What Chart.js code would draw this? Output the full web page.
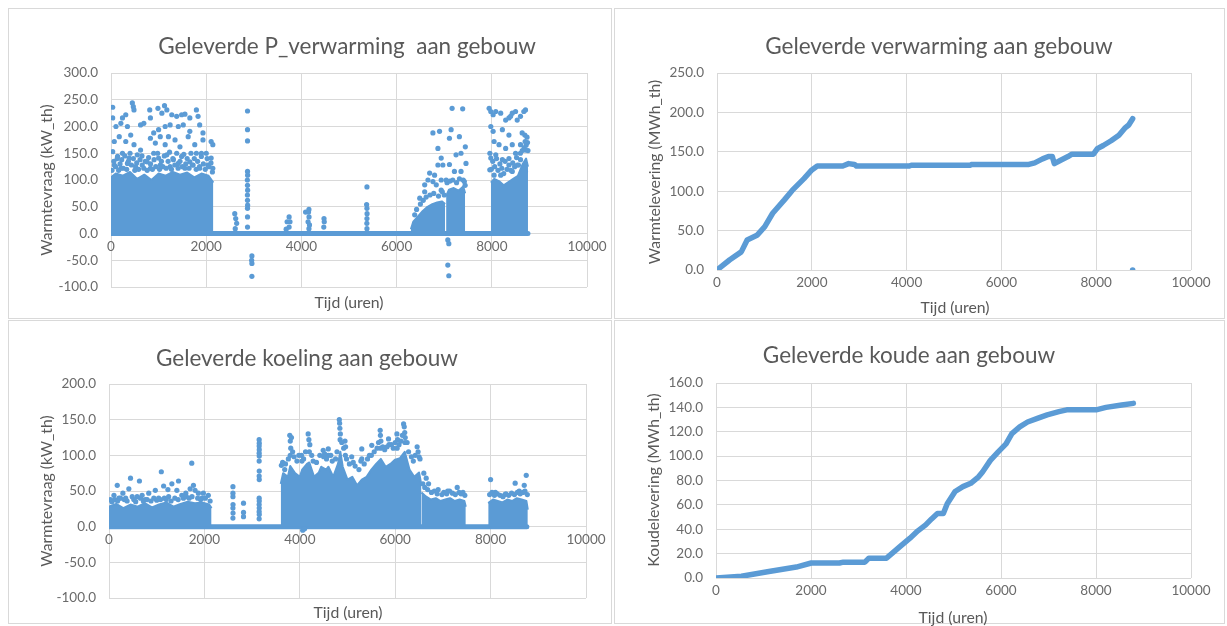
<!DOCTYPE html>
<html>
<head>
<meta charset="utf-8">
<script src="https://cdn.jsdelivr.net/npm/chart.js@4.4.1/dist/chart.umd.min.js"></script>
<style>
  body { margin: 0; background: #fff; width: 1227px; height: 626px; overflow: hidden; position: relative; font-family: Lato, sans-serif; color: #595959; }
  .panel { position: absolute; box-shadow: inset 0 0 0 1px #d9d9d9; }
  .panel canvas { position: absolute; left: 0; top: 0; }
  .title { position: absolute; font-size: 22.5px; white-space: pre; transform: translate(-50%, -50%); }
  .axt { position: absolute; font-size: 15.8px; white-space: pre; transform: translate(-50%, -50%); }
  .axt.v { transform: translate(-50%, -50%) rotate(-90deg); }
</style>
</head>
<body>
<div class="panel" style="left:8px;top:8px;width:604px;height:311px"><canvas id="c1" width="604" height="311"></canvas></div>
<div class="panel" style="left:614px;top:8px;width:611px;height:311px"><canvas id="c2" width="611" height="311"></canvas></div>
<div class="panel" style="left:8px;top:320px;width:604px;height:304px"><canvas id="c3" width="604" height="304"></canvas></div>
<div class="panel" style="left:614px;top:320px;width:611px;height:304px"><canvas id="c4" width="611" height="304"></canvas></div>

<div class="title" style="left:347px;top:45px">Geleverde P_verwarming  aan gebouw</div>
<div class="title" style="left:939px;top:45px">Geleverde verwarming aan gebouw</div>
<div class="title" style="left:307px;top:357px">Geleverde koeling aan gebouw</div>
<div class="title" style="left:909px;top:354px">Geleverde koude aan gebouw</div>

<div class="axt v" style="left:45px;top:180px">Warmtevraag (kW_th)</div>
<div class="axt v" style="left:653px;top:172px">Warmtelevering (MWh_th)</div>
<div class="axt v" style="left:45px;top:491px">Warmtevraag (kW_th)</div>
<div class="axt v" style="left:652px;top:480px">Koudelevering (MWh_th)</div>

<div class="axt" style="left:349px;top:301px">Tijd (uren)</div>
<div class="axt" style="left:955px;top:306px">Tijd (uren)</div>
<div class="axt" style="left:348px;top:611px">Tijd (uren)</div>
<div class="axt" style="left:953px;top:616px">Tijd (uren)</div>

<script>
// ---- data: [uur, waarde] ----

// P_verwarming (kW_th): dense clouds (tops), the zero run, and separate dots
const heatZero = [[0, 0], [8760, 0]];
const heatBand1 = [[0,105],[100,112],[250,108],[400,115],[550,102],[700,110],[850,100],[1000,112],[1150,108],[1300,115],[1450,110],[1600,114],[1750,105],[1900,112],[2050,108],[2150,95]];
const heatBand2 = [[6300,8],[6350,22],[6450,32],[6550,42],[6650,50],[6750,55],[6850,58],[6950,60],[7020,55]];
const heatBand3 = [[7040,70],[7100,82],[7200,85],[7300,80],[7400,88],[7440,75]];
const heatBand4 = [[7980,95],[8050,102],[8150,98],[8250,90],[8350,96],[8450,102],[8550,108],[8650,130],[8720,140],[8760,125]];
const heatDots = [
  [35,236],[35,216],[448,244],[469,237],[483,231],[310,222],[241,216],[814,231],[828,216],[986,234],[1124,239],[1173,231],[1069,225],[1277,222],[1380,219],[1484,222],[1553,223],[1656,216],[1794,231],[1829,219],
  [104,200],[207,206],[345,200],[621,203],[690,206],[897,188],[1000,194],[1138,200],[1242,203],[1414,200],[1518,203],[1656,191],[1863,203],[1932,188],
  [69,172],[173,181],[310,172],[414,184],[483,166],[621,156],[828,178],[932,169],[1035,181],[1138,166],[1207,181],[1345,175],[1449,162],[1622,181],[1760,166],[1932,175],[2104,172],[2139,166],
  [35,153],[138,144],[241,150],[380,141],[552,147],[759,134],[897,150],[1000,141],[1173,147],[1311,138],[1484,144],[1656,134],[1794,150],[1898,144],[2001,150],[2104,141],
  [69,128],[207,122],[345,131],[518,125],[656,128],[828,122],[1035,128],[1242,125],[1414,131],[1553,122],[1725,128],[1863,122],[2035,128],[2139,122],
  [20,118],[60,135],[95,125],[130,140],[160,118],[190,130],[225,138],[260,122],[290,145],[330,120],[365,135],[400,150],[430,128],[470,140],[500,118],[540,132],[580,120],[610,138],[650,145],[690,122],[720,135],[760,118],[790,142],[830,130],[870,120],[905,138],[940,125],[980,150],[1020,120],[1060,135],[1090,125],[1120,145],[1160,122],[1200,135],[1230,152],[1270,120],[1300,140],[1340,128],[1380,150],[1410,122],[1450,135],[1500,125],[1530,148],[1570,130],[1600,140],[1640,122],[1680,150],[1710,128],[1750,140],[1790,120],[1820,135],[1860,125],[1900,150],[1940,130],[1980,120],[2020,140],[2060,125],[2100,132],[2130,115],
  [2600,37],[2620,28],[2640,19],[2610,9],
  [2868,229],[2868,194],[2868,173],[2868,116],[2870,109],[2865,100],[2868,90],[2870,81],[2866,72],[2868,62],[2870,53],[2868,47],[2868,31],[2868,12],
  [2960,-42],[2955,-50],[2960,-56],[2960,-80],
  [3700,22],[3742,31],[3760,22],[3742,12],[3680,8],
  [4088,40],[4158,45],[4150,40],[4160,31],[4140,22],[4170,16],[4158,9],
  [4475,28],[4480,22],[4470,12],
  [5377,87],[5370,54],[5377,47],[5380,37],[5377,28],[5375,19],[5377,9],
  [6380,35],[6420,45],[6500,55],[6560,62],[6620,68],[6700,72],[6780,75],[6880,70],[6960,78],[7000,72],[7060,95],[7120,98],[7180,100],[7260,95],[7320,102],[7400,100],[7440,90],
  [6763,188],[6902,191],[7145,194],[7319,181],[7110,178],[7166,234],[7388,233],[7444,162],[7353,150],[7249,147],[6868,159],[6937,141],[6868,128],[6972,128],[7110,129],[7458,131],
  [6694,113],[6798,109],[6659,100],[6763,97],[6937,100],[7041,100],[7215,116],[7353,116],[7423,97],[6590,91],[6833,91],[6590,78],[6486,66],[6937,81],
  [7076,-12],[7097,-19],[7076,-59],[7097,-79],
  [7944,234],[7979,228],[8028,222],[8083,228],[8187,225],[8291,212],[8360,216],[8430,225],[8499,228],[8673,228],[8708,231],[8603,219],[8534,212],[8395,219],
  [7979,200],[8028,191],[8222,194],[8360,184],[8638,188],[8694,184],[8048,172],[8152,166],[8291,159],[8430,166],[8603,166],[8708,156],
  [8083,147],[8222,138],[8360,128],[8499,150],[8603,138],[7979,141],[8187,109],[8534,128],[7958,119],[8048,109],[8430,116],[8708,116],[7960,150],
  [7990,120],[8020,135],[8060,125],[8100,140],[8130,118],[8170,130],[8210,122],[8250,112],[8280,135],[8320,120],[8360,140],[8400,118],[8440,132],[8480,125],[8520,142],[8560,128],[8600,150],[8640,155],[8680,160],[8720,165],[8750,170],[8740,180],[8700,172],[8760,155]
];

// cumulatieve warmtelevering (MWh_th)
const heatCum = [[0,0],[264,12.7],[512,23],[636,38],[843,44],[1008,55],[1174,72],[1421,89],[1587,101],[1835,116],[2000,127],[2116,132],[2653,132],[2777,135],[2900,134],[2942,132],[4058,132],[4099,133],[5339,133],[5380,134],[6579,134],[6703,136],[6868,141],[6992,144],[7074,144],[7116,135],[7240,139],[7405,144],[7488,147],[7942,147],[8025,154],[8149,158],[8314,164],[8479,171],[8603,180],[8686,184],[8769,192]];
const heatCumOutlier = [[8769, 0]];

// koeling (kW_th)
const coolZero = [[0, 0], [8760, 0]];
const coolBand1 = [[0,28],[150,32],[300,26],[450,31],[600,28],[750,33],[900,27],[1050,31],[1200,34],[1350,28],[1500,32],[1650,35],[1800,33],[1950,34],[2100,31],[2150,26]];
const coolBand2 = [[3600,60],[3650,75],[3750,70],[3800,85],[3900,75],[4000,70],[4050,80],[4150,88],[4200,90],[4300,70],[4400,76],[4450,84],[4550,80],[4600,84],[4700,70],[4800,88],[4850,105],[4900,84],[5000,66],[5100,70],[5200,58],[5300,66],[5400,70],[5500,80],[5600,88],[5700,95],[5800,84],[5900,88],[6000,94],[6100,96],[6200,105],[6300,80],[6400,70],[6500,76],[6550,58]];
const coolBand3 = [[6550,48],[6650,42],[6750,38],[6850,40],[6950,36],[7050,38],[7150,40],[7250,36],[7350,38],[7450,36],[7480,28]];
const coolBand4 = [[7950,33],[8050,38],[8150,36],[8250,34],[8350,38],[8450,36],[8550,40],[8650,38],[8750,36],[8780,24]];
const coolDots = [
  [1735,89],[1097,77],[451,68],[638,64],[173,58],[416,53],[1457,64],[1318,60],[1145,57],[1235,52],[1770,58],[1701,53],[971,51],[104,44],[291,47],[486,42],[694,44],[833,47],[1423,51],[1610,47],[1874,47],[1978,47],[2082,44],[208,40],[590,42],[1041,40],[1527,44],[1804,51],[30,38],[350,40],[760,38],[1250,42],[1950,40],
  [60,35],[120,38],[180,36],[240,40],[320,38],[380,36],[520,38],[560,35],[660,40],[720,36],[800,38],[880,36],[940,40],[1000,37],[1080,38],[1160,40],[1200,38],[1300,36],[1380,40],[1450,38],[1560,40],[1620,42],[1680,40],[1740,42],[1860,40],[1920,38],[2020,40],[2120,36],
  [2598,56],[2598,47],[2598,42],[2600,31],[2598,26],[2600,19],[2598,12],
  [2820,33],[2820,20],[2820,14],
  [3148,122],[3150,117],[3148,113],[3150,108],[3148,103],[3150,99],[3148,92],[3150,78],[3148,71],[3150,66],[3148,40],[3150,36],[3148,31],[3150,26],[3148,21],[3150,17],[3148,11],
  [3614,86],[3684,80],[3790,128],[3800,120],[3810,110],[3825,125],[3800,100],[4035,100],[4045,92],[4175,130],[4190,122],[4210,115],[4200,105],[4491,107],[4500,98],[4597,109],[4600,100],
  [4828,150],[4835,145],[4840,138],[4850,130],[4845,122],[4948,120],[4960,112],[4955,100],[5088,98],[5299,109],[5300,95],[5509,114],[5500,100],
  [5685,135],[5690,128],[5700,120],[5695,110],[5860,123],[5870,115],[6036,130],[6050,122],[6040,110],[6176,144],[6190,140],[6200,132],[6210,125],[6205,118],[6460,112],[6480,105],[6500,98],
  [3640,90],[3700,88],[3760,95],[3850,105],[3880,98],[3940,92],[3980,100],[4080,95],[4120,105],[4250,100],[4280,92],[4350,90],[4420,100],[4520,102],[4560,95],[4650,100],[4680,92],[4750,95],[4780,105],[4880,118],[4920,110],[4980,95],[5040,88],[5120,90],[5160,85],[5240,80],[5280,92],[5350,88],[5420,95],[5460,100],[5560,105],[5620,110],[5650,118],[5740,112],[5780,108],[5830,112],[5920,115],[5960,110],[6000,118],[6080,115],[6120,120],[6150,128],[6250,118],[6280,105],[6340,98],[6380,92],[6420,100],[6520,95],
  [6580,60],[6620,55],[6680,52],[6760,48],[6820,50],[6880,46],[6980,45],[7020,48],[7080,46],[7140,50],[7200,47],[7260,45],[7340,48],[7380,46],[7460,44],
  [6600,75],[6650,68],[6700,60],[6900,52],[7100,50],[7300,55],[7420,48],[8000,66],[8515,61],[8747,72],[8705,58],[8100,48],[8300,45],[8600,50],
  [7980,45],[8030,48],[8080,44],[8140,46],[8200,44],[8260,42],[8320,46],[8380,44],[8440,47],[8500,45],[8560,48],[8620,46],[8680,48],[8720,50],[8770,45],
  [4060,-5],[4100,-3]
];

// cumulatieve koudelevering (MWh_th)
const coolCum = [[0,0],[536,1.4],[1114,5.4],[1691,9],[2005,12.3],[2599,12.3],[2681,13],[3135,13],[3218,16.3],[3589,16.3],[3713,20.4],[3878,26],[4084,32.7],[4250,38.7],[4414,43.6],[4538,48.5],[4662,53],[4786,53],[4868,61],[5033,71],[5198,75],[5363,77.7],[5528,83],[5611,87],[5776,96.5],[5941,103.5],[6106,110],[6229,118.5],[6394,124],[6559,128],[6766,131],[6972,133.8],[7219,136.5],[7384,138],[8003,138],[8210,140],[8540,142],[8787,143.3]];

const xTicks = [0, 2000, 4000, 6000, 8000, 10000];

// ---- drawing ----
const BLUE = '#5B9BD5';
const GRID = '#d9d9d9';
const TICK = '#6a6a6a';

const pts = a => a.map(([x, y]) => ({ x, y }));

function band(a) {
  return { data: pts(a), showLine: true, fill: 'origin', backgroundColor: BLUE, borderColor: BLUE,
           borderWidth: 2, borderJoinStyle: 'round', pointRadius: 0, tension: 0 };
}
function dots(a, r) {
  return { data: pts(a), showLine: false, pointRadius: r || 2.6, pointBorderWidth: 0,
           pointBackgroundColor: BLUE, backgroundColor: BLUE, borderColor: BLUE };
}
function curve(a, w) {
  return { data: pts(a), showLine: true, fill: false, borderColor: BLUE, borderWidth: w,
           borderCapStyle: 'round', borderJoinStyle: 'round', pointRadius: 0, tension: 0 };
}

function makeChart(id, box, yMin, yMax, yStep, datasets) {
  new Chart(document.getElementById(id), {
    type: 'scatter',
    data: { datasets },
    options: {
      responsive: false,
      animation: false,
      events: [],
      layout: { padding: { top: box.top, right: box.right, bottom: box.bottom, left: 0 } },
      plugins: { legend: { display: false }, tooltip: { enabled: false } },
      scales: {
        x: {
          type: 'linear', min: 0, max: 10000,
          position: { y: 0 },
          afterBuildTicks: s => { s.ticks = xTicks.map(v => ({ value: v })); },
          ticks: { color: TICK, font: { family: 'Lato', size: 13.5 }, padding: 5, maxRotation: 0, autoSkip: false,
                   callback: v => String(v) },
          grid: { color: GRID, drawTicks: false },
          border: { display: false }
        },
        y: {
          type: 'linear', min: yMin, max: yMax, position: 'left',
          ticks: { stepSize: yStep, color: TICK, font: { family: 'Lato', size: 13.5 }, padding: 13,
                   callback: v => v.toFixed(1) },
          grid: { color: GRID, drawTicks: false },
          border: { display: false },
          afterFit: s => { s.width = box.left; s.paddingTop = 0; s.paddingBottom = 0; s.paddingLeft = 0; s.paddingRight = 0; }
        }
      }
    }
  });
}

makeChart('c1', { left: 103, top: 65, right: 25, bottom: 32 }, -100, 300, 50, [
  band(heatBand1), band(heatBand2), band(heatBand3), band(heatBand4),
  dots(heatDots), curve(heatZero, 5)
]);

makeChart('c2', { left: 103, top: 65, right: 34, bottom: 49 }, 0, 250, 50, [
  curve(heatCum, 5.5), dots(heatCumOutlier, 2.8)
]);

makeChart('c3', { left: 101, top: 64, right: 26, bottom: 26 }, -100, 200, 50, [
  band(coolBand1), band(coolBand2), band(coolBand3), band(coolBand4),
  dots(coolDots), curve(coolZero, 5)
]);

makeChart('c4', { left: 102, top: 63, right: 34, bottom: 46 }, 0, 160, 20, [
  curve(coolCum, 5.5)
]);
</script>
</body>
</html>
